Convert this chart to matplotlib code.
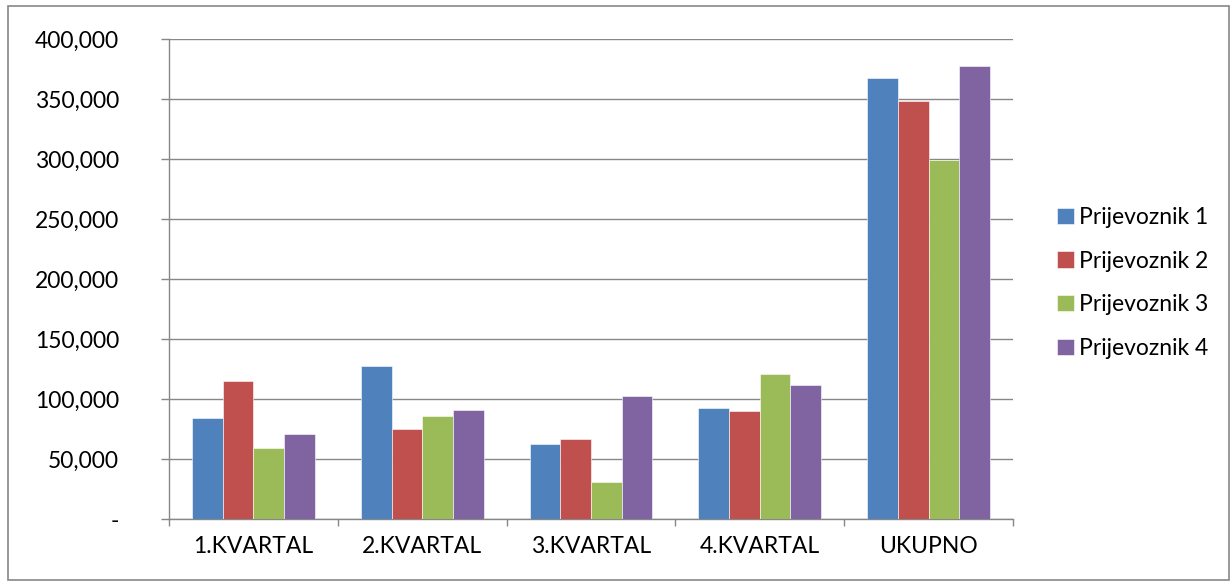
import matplotlib

matplotlib.use("Agg")
import matplotlib.pyplot as plt
import numpy as np
from matplotlib.patches import Rectangle
from matplotlib.ticker import FuncFormatter

plt.rcParams["font.family"] = ["Lato", "DejaVu Sans"]

# --------------------------------------------------
# data
# --------------------------------------------------
categories = ["1.KVARTAL", "2.KVARTAL", "3.KVARTAL", "4.KVARTAL", "UKUPNO"]
series_names = ["Prijevoznik 1", "Prijevoznik 2", "Prijevoznik 3", "Prijevoznik 4"]
prijevoznik_1 = [83800, 127800, 62800, 92100, 367600]
prijevoznik_2 = [115000, 75400, 67000, 89600, 348700]
prijevoznik_3 = [59500, 85700, 31200, 120900, 299500]
prijevoznik_4 = [70900, 91000, 102200, 111400, 377400]
y_ticks = [0, 50000, 100000, 150000, 200000, 250000, 300000, 350000, 400000]

colors = ["#4F81BD", "#C0504D", "#9BBB59", "#8064A2"]
grid_col = "#878787"
fs = 16.5

# --------------------------------------------------
# figure
# --------------------------------------------------
fig = plt.figure(figsize=(12.31, 5.81), dpi=100)
ax = fig.add_axes([169 / 1231, 1 - 519 / 581, (1013 - 169) / 1231, (519 - 39) / 581])

x = np.arange(len(categories))
width = 1 / 5.5
all_series = [prijevoznik_1, prijevoznik_2, prijevoznik_3, prijevoznik_4]
for i, (vals, name) in enumerate(zip(all_series, series_names)):
    ax.bar(x + (i - 1.5) * width, vals, width, color=colors[i], label=name,
           edgecolor="white", linewidth=0.4, zorder=3)

ax.set_xlim(-0.5, len(categories) - 0.5)
ax.set_ylim(0, 400000)

# y axis
ax.set_yticks(y_ticks)
ax.yaxis.set_major_formatter(FuncFormatter(lambda v, p: "-" if v == 0 else f"{int(v):,}"))
ax.tick_params(axis="y", length=6, width=1, color=grid_col, pad=30, labelsize=fs)
ax.grid(axis="y", color=grid_col, lw=1, zorder=0)
ax.set_axisbelow(True)

# x axis: labels centered, ticks at group boundaries
ax.set_xticks(x)
ax.set_xticklabels(categories)
ax.set_xticks(np.arange(-0.5, len(categories), 1.0), minor=True)
ax.tick_params(axis="x", which="major", length=0, pad=12, labelsize=fs)
ax.tick_params(axis="x", which="minor", length=5, width=1, color=grid_col)

for s in ["top", "right"]:
    ax.spines[s].set_visible(False)
for s in ["left", "bottom"]:
    ax.spines[s].set_color(grid_col)
    ax.spines[s].set_linewidth(1)

# legend
ax.legend(loc="center left", bbox_to_anchor=(1046 / 1231, 298 / 581),
          bbox_transform=fig.transFigure, frameon=False, fontsize=fs,
          handlelength=0.7, handleheight=0.7, handletextpad=0.25,
          labelspacing=1.0, borderpad=0)

# outer border of the chart area
fig.patches.append(Rectangle((8 / 1231, 1 / 581), 1221 / 1231, 574 / 581,
                             transform=fig.transFigure, fill=False,
                             edgecolor=grid_col, lw=1.2))

fig.savefig("out.png", dpi=100)
